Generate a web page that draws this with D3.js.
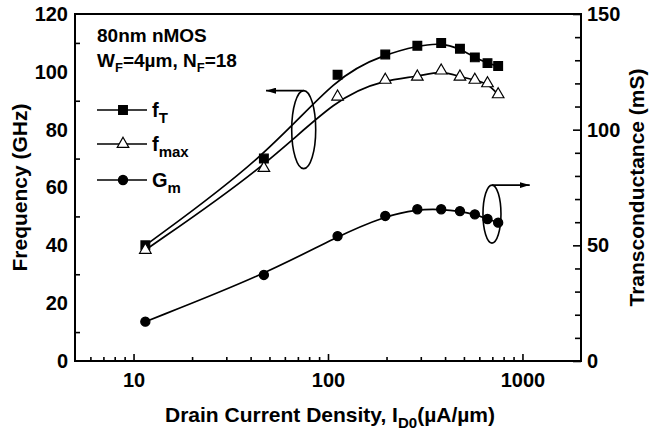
<!DOCTYPE html>
<html>
<head>
<meta charset="utf-8">
<script src="https://cdn.jsdelivr.net/npm/d3@7"></script>
<style>
  html, body { margin: 0; padding: 0; background: #fff; }
  svg { display: block; }
  text { font-family: "Liberation Sans", Arial, Helvetica, sans-serif; font-weight: bold; fill: #000; }
</style>
</head>
<body>
<svg id="chart" width="649" height="434"></svg>
<script>
// Drain current density (µA/µm) for each bias point
const currentDensity = [11.5, 46.8, 112, 197, 288, 382, 477, 569, 661, 750];
// Cut-off frequency fT (GHz)
const fT = [40, 70, 99, 106, 109, 110, 108, 105, 103, 102];
// Maximum oscillation frequency fmax (GHz)
const fMax = [38.4, 66.7, 91.4, 97.2, 98.3, 100.4, 98.3, 97.2, 96.0, 92.2];
// Transconductance Gm (mS)
const gm = [17.0, 37.2, 54.0, 62.7, 65.6, 65.6, 64.8, 63.4, 61.4, 59.8];

// Axis ticks
const xMajorTicks = [10, 100, 1000];
const xMinorTicks = [6, 7, 8, 9, 20, 30, 40, 50, 60, 70, 80, 90, 200, 300, 400, 500, 600, 700, 800, 900];
const yLeftTicks = [0, 20, 40, 60, 80, 100, 120];
const yLeftMinor = [10, 30, 50, 70, 90, 110];
const yRightTicks = [0, 50, 100, 150];
const yRightMinor = [10, 20, 30, 40, 60, 70, 80, 90, 110, 120, 130, 140];

const svg = d3.select("#chart");
const L = 75, R = 581, T = 14, B = 361;

const x = d3.scaleLog().domain([5, 2000]).range([L, R]);
const yL = d3.scaleLinear().domain([0, 120]).range([B, T]);
const yR = d3.scaleLinear().domain([0, 150]).range([B, T]);

// ---- axes ----
const gx = svg.append("g").attr("transform", `translate(0,${B})`);
gx.call(d3.axisBottom(x).tickValues(xMajorTicks).tickSize(-7).tickPadding(12).tickFormat(d3.format("d")));
gx.append("g").call(d3.axisBottom(x).tickValues(xMinorTicks).tickSize(-4).tickFormat(""));

const gyl = svg.append("g").attr("transform", `translate(${L},0)`);
gyl.call(d3.axisLeft(yL).tickValues(yLeftTicks).tickSize(0).tickPadding(7));
gyl.append("g").call(d3.axisLeft(yL).tickValues(yLeftMinor).tickSize(-5).tickFormat(""));

const gyr = svg.append("g").attr("transform", `translate(${R},0)`);
gyr.call(d3.axisRight(yR).tickValues(yRightTicks).tickSize(-8).tickPadding(6));
gyr.append("g").call(d3.axisRight(yR).tickValues(yRightMinor).tickSize(-6).tickFormat(""));

svg.selectAll(".domain").remove();
svg.selectAll(".tick line").attr("stroke", "#000").attr("stroke-width", 1.6);
svg.selectAll(".tick text").style("font-size", "20px").attr("fill", "#000");
gx.selectAll(".tick text").attr("dy", "0.71em");

// plot frame
svg.append("rect")
  .attr("x", L).attr("y", T).attr("width", R - L).attr("height", B - T)
  .attr("fill", "none").attr("stroke", "#000").attr("stroke-width", 2);

// ---- axis titles ----
svg.append("text")
  .attr("transform", `translate(27,${(T + B) / 2}) rotate(-90)`)
  .attr("text-anchor", "middle")
  .style("font-size", "21px")
  .text("Frequency (GHz)");

svg.append("text")
  .attr("transform", `translate(644,${(T + B) / 2}) rotate(-90)`)
  .attr("text-anchor", "middle")
  .style("font-size", "21px")
  .text("Transconductance (mS)");

const xt = svg.append("text")
  .attr("x", (L + R) / 2 + 2).attr("y", 422)
  .attr("text-anchor", "middle")
  .style("font-size", "21px");
xt.append("tspan").text("Drain Current Density, I");
xt.append("tspan").attr("dy", 6).style("font-size", "15px").text("D0");
xt.append("tspan").attr("dy", -6).text("(\u00b5A/\u00b5m)");

// ---- data curves ----
const pts = (vals, scale) => currentDensity.map((c, i) => [x(c), scale(vals[i])]);
const line = d3.line().curve(d3.curveBasis);

const series = [
  { vals: fT, scale: yL, symbol: d3.symbolSquare, size: 76, fill: "#000" },
  { vals: fMax, scale: yL, symbol: d3.symbolTriangle, size: 58, fill: "#fff" },
  { vals: gm, scale: yR, symbol: d3.symbolCircle, size: 66, fill: "#000" }
];

series.forEach(s => {
  const p = pts(s.vals, s.scale);
  svg.append("path")
    .attr("d", line(p))
    .attr("fill", "none").attr("stroke", "#000").attr("stroke-width", 1.7);
  svg.append("g").selectAll("path").data(p).join("path")
    .attr("transform", d => `translate(${d[0]},${d[1]})`)
    .attr("d", d3.symbol(s.symbol, s.size))
    .attr("fill", s.fill).attr("stroke", "#000").attr("stroke-width", 1.2);
});

// ---- annotations: ellipses with arrows pointing to the relevant axis ----
svg.append("defs").append("marker")
  .attr("id", "head").attr("viewBox", "0 0 10 6")
  .attr("refX", 10).attr("refY", 3)
  .attr("markerWidth", 10).attr("markerHeight", 6)
  .attr("markerUnits", "userSpaceOnUse")
  .attr("orient", "auto")
  .append("path").attr("d", "M0,0 L10,3 L0,6 Z").attr("fill", "#000");

function ring(cx, cy, rx, ry, tipX) {
  svg.append("ellipse")
    .attr("cx", cx).attr("cy", cy).attr("rx", rx).attr("ry", ry)
    .attr("fill", "none").attr("stroke", "#000").attr("stroke-width", 1.6);
  svg.append("line")
    .attr("x1", cx).attr("y1", cy - ry).attr("x2", tipX).attr("y2", cy - ry)
    .attr("stroke", "#000").attr("stroke-width", 1.6)
    .attr("marker-end", "url(#head)");
}
ring(x(75), yL(80), 12, 39, x(48));
ring(x(697), yR(63.5), 9, 29, x(1090));

// ---- device description ----
svg.append("text").attr("x", 97).attr("y", 42).style("font-size", "19px").text("80nm nMOS");
const dev = svg.append("text").attr("x", 97).attr("y", 67).style("font-size", "19px");
dev.append("tspan").text("W");
dev.append("tspan").attr("dy", 5).style("font-size", "13px").text("F");
dev.append("tspan").attr("dy", -5).text("=4\u00b5m, N");
dev.append("tspan").attr("dy", 5).style("font-size", "13px").text("F");
dev.append("tspan").attr("dy", -5).text("=18");

// ---- legend ----
const legend = [
  { sym: series[0], y: 110, main: "f", sub: "T" },
  { sym: series[1], y: 144, main: "f", sub: "max" },
  { sym: series[2], y: 180, main: "G", sub: "m" }
];
legend.forEach(e => {
  svg.append("line").attr("x1", 97).attr("x2", 147).attr("y1", e.y).attr("y2", e.y)
    .attr("stroke", "#000").attr("stroke-width", 1.6);
  svg.append("path").attr("transform", `translate(123,${e.y})`)
    .attr("d", d3.symbol(e.sym.symbol, e.sym.size))
    .attr("fill", e.sym.fill).attr("stroke", "#000").attr("stroke-width", 1.2);
  const t = svg.append("text").attr("x", 152).attr("y", e.y + 7).style("font-size", "20px");
  t.append("tspan").text(e.main);
  t.append("tspan").attr("dy", 6).style("font-size", "15px").text(e.sub);
});
</script>
</body>
</html>
